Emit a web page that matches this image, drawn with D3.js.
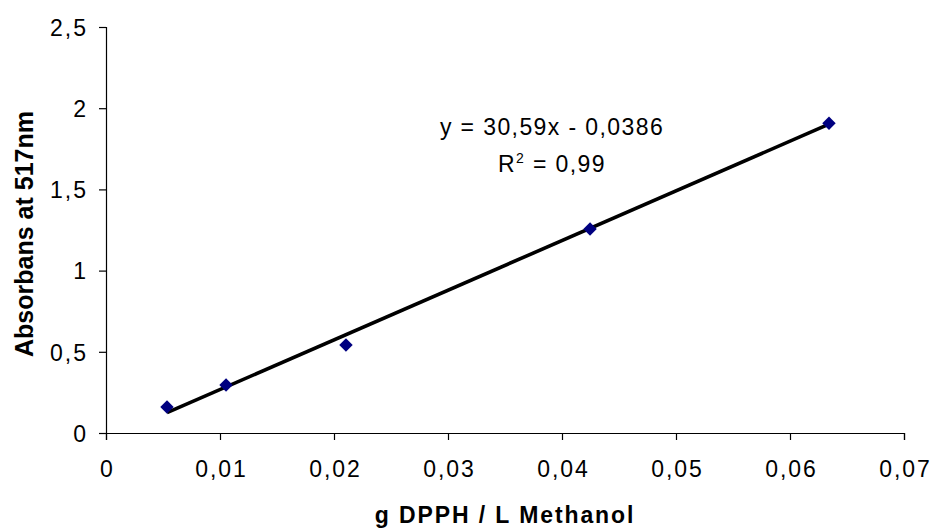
<!DOCTYPE html>
<html>
<head>
<meta charset="utf-8">
<script src="https://cdn.jsdelivr.net/npm/d3@7"></script>
<style>
  body { margin: 0; background: #fff; }
  svg { display: block; font-family: "Liberation Sans", Arial, sans-serif; }
</style>
</head>
<body>
<svg id="chart"></svg>
<script>
// ----- Data -----
const xValues = [0.00535, 0.01053, 0.02105, 0.04246, 0.06342];
const yValues = [0.16, 0.296, 0.542, 1.256, 1.907];
const xTicks = [0, 0.01, 0.02, 0.03, 0.04, 0.05, 0.06, 0.07];
const yTicks = [0, 0.5, 1, 1.5, 2, 2.5];
const slope = 30.59, intercept = -0.0386;
const equationText = "y = 30,59x - 0,0386";
const r2Value = "0,99";

// ----- Layout -----
const size = { width: 932, height: 529 };
const margin = { top: 27, right: 28, bottom: 96, left: 106 };
const width = size.width - margin.left - margin.right,
      height = size.height - margin.top - margin.bottom;

const fmt = d => String(d).replace(".", ",");

const svg = d3.select("#chart")
    .attr("width", size.width)
    .attr("height", size.height);

const g = svg.append("g")
    .attr("transform", `translate(${margin.left},${margin.top})`);

const x = d3.scaleLinear().domain([0, 0.07]).range([0, width]);
const y = d3.scaleLinear().domain([0, 2.5]).range([height, 0]);

// ----- Axes -----
const xAxis = g.append("g")
    .attr("transform", `translate(0,${height})`)
    .call(d3.axisBottom(x).tickValues(xTicks).tickFormat(fmt).tickSize(7).tickPadding(21));

const yAxis = g.append("g")
    .call(d3.axisLeft(y).tickValues(yTicks).tickFormat(fmt).tickSize(7).tickPadding(11));

[xAxis, yAxis].forEach(ax => {
    ax.select(".domain").attr("stroke", "#000").attr("stroke-width", 1.2);
    ax.selectAll(".tick line").attr("stroke", "#000").attr("stroke-width", 1.2);
    ax.selectAll(".tick text")
        .attr("fill", "#000")
        .style("font-size", "23px")
        .style("letter-spacing", "2px")
        .style("font-family", "'Liberation Sans', Arial, sans-serif");
});
yAxis.selectAll(".tick text").attr("dy", "0.36em");
xAxis.selectAll(".tick text").attr("dx", "1px");

// ----- Trend line -----
const xExtent = d3.extent(xValues);
g.append("path")
    .datum(xExtent.map(v => ({ x: v, y: slope * v + intercept })))
    .attr("fill", "none")
    .attr("stroke", "#000")
    .attr("stroke-width", 3.6)
    .attr("d", d3.line().x(d => x(d.x)).y(d => y(d.y)));

// ----- Points -----
g.selectAll(".pt")
    .data(xValues.map((v, i) => ({ x: v, y: yValues[i] })))
    .enter().append("path")
    .attr("class", "pt")
    .attr("d", d3.symbol(d3.symbolSquare, 90))
    .attr("fill", "#000080")
    .attr("transform", d => `translate(${x(d.x)},${y(d.y)}) rotate(45)`);

// ----- Equation label -----
g.append("text")
    .attr("x", 552 - margin.left)
    .attr("y", 135 - margin.top)
    .attr("text-anchor", "middle")
    .style("font-size", "23px")
    .style("letter-spacing", "1.4px")
    .text(equationText);

const r2 = g.append("text")
    .attr("x", 552 - margin.left)
    .attr("y", 172 - margin.top)
    .attr("text-anchor", "middle")
    .style("font-size", "23px")
    .style("letter-spacing", "1.4px");
r2.append("tspan").text("R");
r2.append("tspan").attr("dy", -9).style("font-size", "14px").text("2");
r2.append("tspan").attr("dy", 9).text(" = " + r2Value);

// ----- Axis titles -----
svg.append("text")
    .attr("x", 505)
    .attr("y", 523)
    .attr("text-anchor", "middle")
    .style("font-size", "23px")
    .style("font-weight", "bold")
    .style("letter-spacing", "1.9px")
    .text("g DPPH / L Methanol");

svg.append("text")
    .attr("transform", "translate(33,234) rotate(-90)")
    .attr("text-anchor", "middle")
    .style("font-size", "25px")
    .style("font-weight", "bold")
    .text("Absorbans at 517nm");
</script>
</body>
</html>
